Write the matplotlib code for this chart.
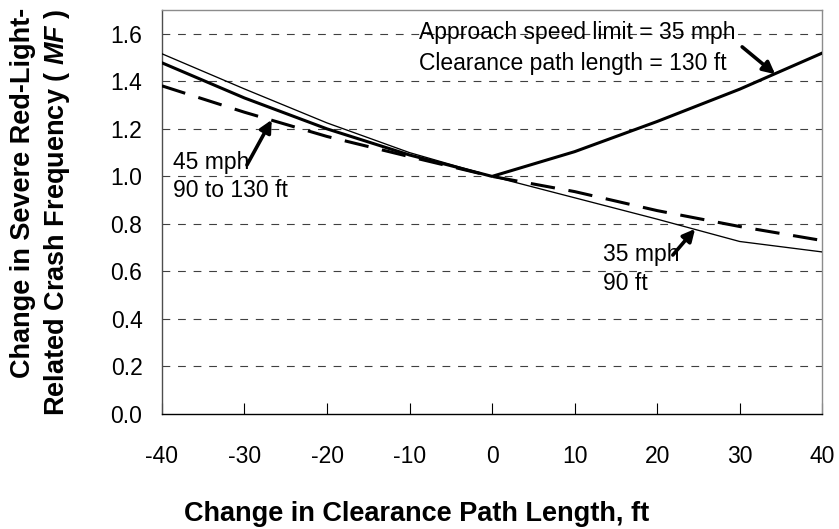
import matplotlib.pyplot as plt

plt.rcParams['font.family'] = ['Liberation Sans', 'DejaVu Sans']
plt.rcParams['mathtext.fontset'] = 'custom'
plt.rcParams['mathtext.it'] = 'Liberation Sans:italic:bold'
plt.rcParams['mathtext.rm'] = 'Liberation Sans:bold'

# Data
change_ft = [-40, -30, -20, -10, 0, 10, 20, 30, 40]
mf_35mph_90ft = [1.516, 1.368, 1.225, 1.100, 1.0, 0.910, 0.820, 0.726, 0.682]
mf_35mph_130ft = [1.478, 1.330, 1.200, 1.090, 1.0, 1.104, 1.231, 1.367, 1.519]
mf_45mph = [1.381, 1.270, 1.168, 1.083, 1.0, 0.936, 0.856, 0.789, 0.730]

x_ticks = [-40, -30, -20, -10, 0, 10, 20, 30, 40]
y_ticks = [0.0, 0.2, 0.4, 0.6, 0.8, 1.0, 1.2, 1.4, 1.6]

fig = plt.figure(figsize=(8.39, 5.29), dpi=100)
ax = fig.add_axes([0.193, 0.2174, 0.787, 0.7636])

# horizontal dashed gridlines
for yv in y_ticks[1:]:
    ax.axhline(yv, color='0.25', lw=0.8, dashes=(7, 7), zorder=1)

ax.plot(change_ft, mf_35mph_90ft, color='black', lw=0.95, zorder=3)
ax.plot(change_ft, mf_35mph_130ft, color='black', lw=2.2, zorder=3)
ax.plot(change_ft, mf_45mph, color='black', lw=2.2, dashes=(8, 4.5), zorder=3)

ax.set_xlim(-40, 40)
ax.set_ylim(0, 1.7)
ax.set_xticks(x_ticks)
ax.set_yticks(y_ticks)
ax.set_xticklabels([f'{v}' for v in x_ticks])
ax.set_yticklabels([f'{v:.1f}' for v in y_ticks])
ax.tick_params(axis='x', direction='in', length=8, width=0.8, pad=22, labelsize=16.5)
ax.tick_params(axis='y', length=0, pad=14, labelsize=16.5)

ax.spines['top'].set_color('0.55')
ax.spines['right'].set_color('0.55')
ax.spines['left'].set_color('0.3')
ax.spines['bottom'].set_color('black')
for s in ax.spines.values():
    s.set_linewidth(1.0)

fig.text(0.4964, 1 - 514 / 529, 'Change in Clearance Path Length, ft',
         ha='center', va='center', fontsize=19.5, fontweight='bold')
fig.text(41 / 839, 1 - 212 / 529,
         'Change in Severe Red-Light-\nRelated Crash Frequency ( $\\mathit{MF}$ )',
         ha='center', va='center', rotation=90, fontsize=19.5, fontweight='bold',
         multialignment='right', linespacing=1.25)

arrow = dict(arrowstyle='-|>', color='black', lw=2.6, mutation_scale=18,
             shrinkA=0, shrinkB=0)

ax.text(-38.7, 1.0, '45 mph\n90 to 130 ft', fontsize=16.5, ha='left', va='center',
        linespacing=1.3, zorder=4)
ax.annotate('', xy=(-26.7, 1.238), xytext=(-29.7, 1.048), arrowprops=arrow, zorder=5)

ax.text(-8.9, 1.54, 'Approach speed limit = 35 mph\nClearance path length = 130 ft',
        fontsize=16.5, ha='left', va='center', linespacing=1.45, zorder=4)
ax.annotate('', xy=(34.3, 1.43), xytext=(30.3, 1.545), arrowprops=arrow, zorder=5)

ax.text(13.4, 0.61, '35 mph\n90 ft', fontsize=16.5, ha='left', va='center',
        linespacing=1.3, zorder=4)
ax.annotate('', xy=(24.6, 0.779), xytext=(21.9, 0.669), arrowprops=arrow, zorder=5)

fig.savefig('out.png', dpi=100)
